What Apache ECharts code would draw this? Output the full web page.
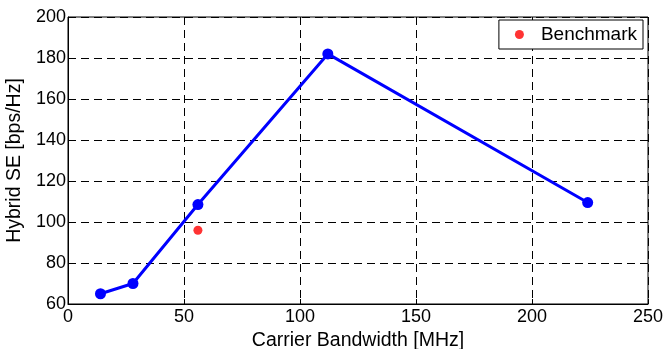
<!DOCTYPE html>
<html>
<head>
<meta charset="utf-8">
<script src="https://cdn.jsdelivr.net/npm/echarts@6/dist/echarts.min.js"></script>
<style>
  html, body { margin: 0; padding: 0; background: #fff; }
  #chart { width: 665px; height: 349px; }
</style>
</head>
<body>
<div id="chart"></div>
<script>
// data
const bandwidth = [14, 28, 56, 112, 224];
const hybridSE = [65, 70, 108.5, 182, 109.5];
const benchBandwidth = [56];
const benchSE = [96];

const FONT = 'Liberation Sans, Arial, sans-serif';

const chart = echarts.init(document.getElementById('chart'));

const dashed = { show: true, lineStyle: { color: '#000', type: [8, 5], width: 1 } };

chart.setOption({
  animation: false,
  textStyle: { fontFamily: FONT },
  grid: {
    left: 68, right: 17, top: 17, bottom: 45,
    outerBoundsMode: 'none', containLabel: false,
    show: true, borderColor: '#000', borderWidth: 1
  },
  legend: {
    data: ['Benchmark'],
    right: 22, top: 20,
    borderColor: '#000', borderWidth: 1, borderRadius: 0,
    padding: [5, 6, 5, 16],
    icon: 'circle', itemWidth: 9, itemHeight: 9,
    textStyle: { fontFamily: FONT, fontSize: 19, color: '#000', padding: [0, 0, 0, 12] },
    backgroundColor: '#fff'
  },
  xAxis: {
    type: 'value', min: 0, max: 250, interval: 50,
    name: 'Carrier Bandwidth [MHz]', nameLocation: 'middle', nameGap: 20,
    nameTextStyle: { fontFamily: FONT, fontSize: 19.5, color: '#000' },
    axisLine: { lineStyle: { color: '#000' } },
    axisTick: { inside: true, length: 5, lineStyle: { color: '#000' } },
    axisLabel: { fontFamily: FONT, fontSize: 18, color: '#000', margin: 4 },
    splitLine: dashed
  },
  yAxis: {
    type: 'value', min: 60, max: 200, interval: 20,
    name: 'Hybrid SE [bps/Hz]', nameLocation: 'middle', nameGap: 39,
    nameTextStyle: { fontFamily: FONT, fontSize: 19.5, color: '#000' },
    axisLine: { show: true, lineStyle: { color: '#000' } },
    axisTick: { show: true, inside: true, length: 5, lineStyle: { color: '#000' } },
    axisLabel: { fontFamily: FONT, fontSize: 18, color: '#000', margin: 2 },
    splitLine: dashed
  },
  series: [
    {
      name: 'Hybrid',
      type: 'line',
      data: bandwidth.map((x, i) => [x, hybridSE[i]]),
      symbol: 'circle', symbolSize: 11,
      lineStyle: { color: '#0000ff', width: 3 },
      itemStyle: { color: '#0000ff' }
    },
    {
      name: 'Benchmark',
      type: 'scatter',
      data: benchBandwidth.map((x, i) => [x, benchSE[i]]),
      symbol: 'circle', symbolSize: 9,
      itemStyle: { color: '#ff0000' }
    }
  ]
});
</script>
</body>
</html>
